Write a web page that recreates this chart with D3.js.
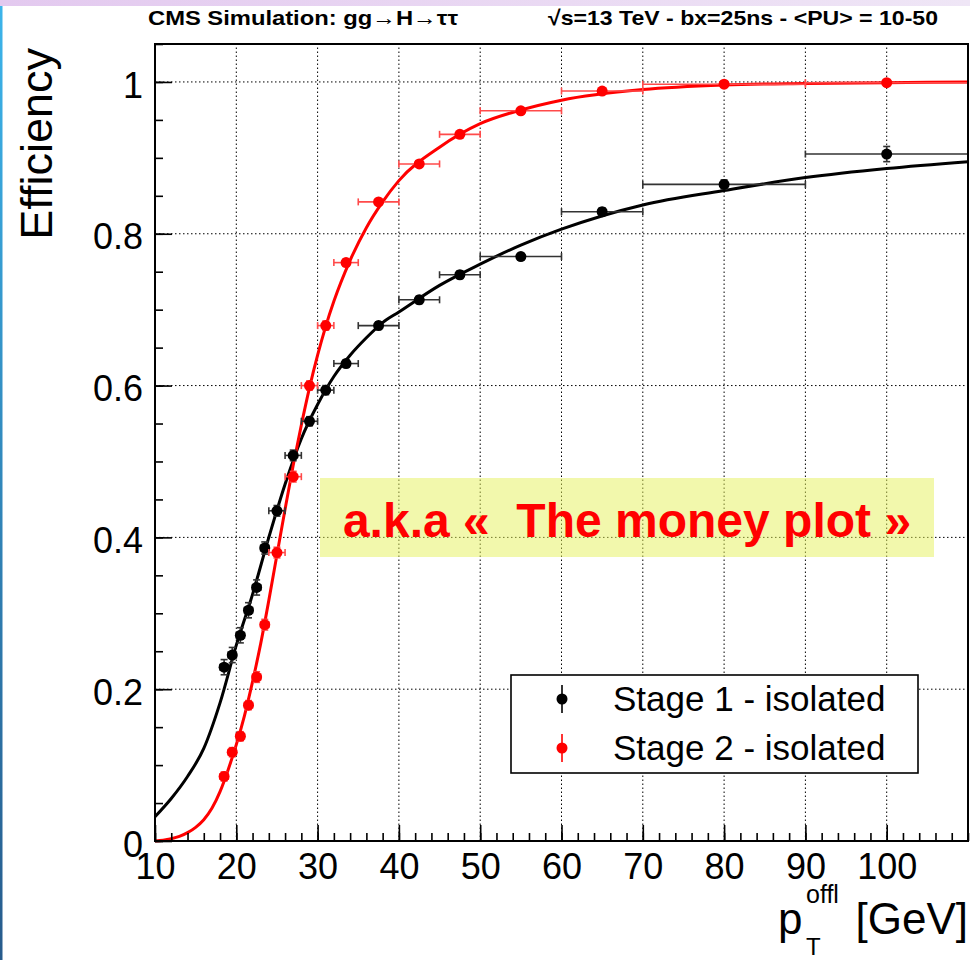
<!DOCTYPE html>
<html>
<head>
<meta charset="utf-8">
<script src="https://cdn.jsdelivr.net/npm/d3@7"></script>
<style>
body { margin: 0; background: #fff; }
svg { display: block; font-family: "Liberation Sans", Arial, Helvetica, sans-serif; }
</style>
</head>
<body>
<svg id="chart" width="970" height="960"></svg>
<script>
// bin centres and edges (GeV)
const ptCenter = [18.5, 19.5, 20.5, 21.5, 22.5, 23.5, 25, 27, 29, 31, 33.5, 37.5, 42.5, 47.5, 55, 65, 80, 100];
const binLo    = [18, 19, 20, 21, 22, 23, 24, 26, 28, 30, 32, 35, 40, 45, 50, 60, 70, 90];
const binHi    = [19, 20, 21, 22, 23, 24, 26, 28, 30, 32, 35, 40, 45, 50, 60, 70, 90, 110];

// efficiencies
const effStage1 = [0.229, 0.245, 0.271, 0.304, 0.334, 0.386, 0.435, 0.508, 0.553, 0.594, 0.629, 0.679, 0.713, 0.746, 0.770, 0.829, 0.865, 0.905];
const errStage1 = [0.010, 0.010, 0.010, 0.010, 0.010, 0.008, 0.007, 0.007, 0.006, 0.006, 0.005, 0.005, 0.005, 0.005, 0.004, 0.005, 0.006, 0.010];
const effStage2 = [0.085, 0.117, 0.138, 0.179, 0.216, 0.285, 0.380, 0.480, 0.600, 0.679, 0.762, 0.842, 0.892, 0.931, 0.962, 0.988, 0.997, 0.999];
const errStage2 = [0.006, 0.006, 0.006, 0.006, 0.007, 0.007, 0.007, 0.007, 0.006, 0.006, 0.005, 0.004, 0.004, 0.003, 0.003, 0.002, 0.002, 0.002];

// fitted turn-on curves
const fitX1     = [10, 12, 14, 16, 18, 20, 22, 24, 26, 28, 30, 32, 34, 36, 38, 40, 45, 50, 55, 60, 70, 80, 90, 100, 110];
const fitStage1 = [0.032, 0.056, 0.085, 0.122, 0.182, 0.258, 0.325, 0.400, 0.470, 0.530, 0.575, 0.612, 0.640, 0.663, 0.683, 0.697, 0.732, 0.760, 0.785, 0.806, 0.838, 0.857, 0.874, 0.886, 0.895];
const fitX2     = [10, 11, 12, 13, 14, 15, 16, 17, 18, 19, 20, 21, 22, 23, 24, 25, 26, 27, 28, 29, 30, 31, 32, 34, 36, 38, 40, 45, 50, 55, 60, 70, 80, 90, 100, 110];
const fitStage2 = [0.000, 0.001, 0.003, 0.006, 0.011, 0.018, 0.028, 0.043, 0.065, 0.094, 0.127, 0.165, 0.210, 0.260, 0.317, 0.377, 0.437, 0.495, 0.548, 0.597, 0.640, 0.678, 0.711, 0.765, 0.808, 0.842, 0.870, 0.914, 0.945, 0.963, 0.976, 0.990, 0.996, 0.998, 0.999, 1.000];

const xTickVals = [10, 20, 30, 40, 50, 60, 70, 80, 90, 100];
const yTickVals = [0, 0.2, 0.4, 0.6, 0.8, 1];
const yTickLabels = ["0", "0.2", "0.4", "0.6", "0.8", "1"];
const legendLabels = ["Stage 1 - isolated", "Stage 2 - isolated"];
const seriesColors = ["#000000", "#ff0000"];

const svg = d3.select("#chart");

const plotL = 155, plotR = 968, plotT = 44, plotB = 841;
const x = d3.scaleLinear().domain([10, 110]).range([plotL, plotR]);
const y = d3.scaleLinear().domain([0, 1.05]).range([plotB, plotT]);

// slide decoration: lavender band on top, blue strip on the left
const defs = svg.append("defs");
const band = defs.append("linearGradient").attr("id", "band");
band.append("stop").attr("offset", "0%").attr("stop-color", "#e3c9ef");
band.append("stop").attr("offset", "100%").attr("stop-color", "#efe6f6");
const strip = defs.append("linearGradient").attr("id", "strip")
	.attr("x1", 0).attr("y1", 0).attr("x2", 0).attr("y2", 1);
strip.append("stop").attr("offset", "0%").attr("stop-color", "#3cb4ea");
strip.append("stop").attr("offset", "100%").attr("stop-color", "#275b8c");

svg.append("rect").attr("x", 0).attr("y", 0).attr("width", 970).attr("height", 6).attr("fill", "url(#band)");
svg.append("rect").attr("x", 0).attr("y", 6).attr("width", 2.5).attr("height", 954).attr("fill", "url(#strip)");

// titles
svg.append("text")
	.attr("x", 148).attr("y", 25)
	.attr("font-size", 21).attr("font-weight", "bold")
	.attr("textLength", 310).attr("lengthAdjust", "spacingAndGlyphs")
	.text("CMS Simulation: gg\u2192H\u2192\u03c4\u03c4");
svg.append("text")
	.attr("x", 548).attr("y", 25)
	.attr("font-size", 21).attr("font-weight", "bold")
	.attr("textLength", 390).attr("lengthAdjust", "spacingAndGlyphs")
	.text("\u221as=13 TeV - bx=25ns - <PU> = 10-50");

// dotted grid
const grid = svg.append("g")
	.attr("stroke", "#000")
	.attr("stroke-width", 1)
	.attr("stroke-dasharray", "1.5,2.5");
grid.selectAll(".gx").data(xTickVals.filter(d => d > 10)).join("line")
	.attr("x1", d => x(d)).attr("x2", d => x(d))
	.attr("y1", plotB).attr("y2", plotT);
grid.selectAll(".gy").data(yTickVals.filter(d => d > 0)).join("line")
	.attr("y1", d => y(d)).attr("y2", d => y(d))
	.attr("x1", plotL).attr("x2", plotR);

// "money plot" banner
svg.append("rect")
	.attr("x", 320).attr("y", 478).attr("width", 614).attr("height", 79)
	.attr("fill", "#e6f25a").attr("fill-opacity", 0.5);
svg.append("text")
	.attr("x", 627).attr("y", 537)
	.attr("text-anchor", "middle")
	.attr("font-size", 48).attr("font-weight", "bold")
	.attr("fill", "#ff0000")
	.style("white-space", "pre")
	.text("a.k.a \u00ab  The money plot \u00bb");

// fit curves
const fitLine = d3.line().curve(d3.curveMonotoneX).x(d => x(d[0])).y(d => y(d[1]));
svg.append("path")
	.datum(fitX1.map((v, i) => [v, fitStage1[i]]))
	.attr("fill", "none").attr("stroke", seriesColors[0]).attr("stroke-width", 3)
	.attr("d", fitLine);
svg.append("path")
	.datum(fitX2.map((v, i) => [v, fitStage2[i]]))
	.attr("fill", "none").attr("stroke", seriesColors[1]).attr("stroke-width", 3)
	.attr("d", fitLine);

// points with error bars
function drawSeries(eff, err, color, barColor) {
	const pts = ptCenter.map((c, i) => ({c: c, lo: binLo[i], hi: binHi[i], v: eff[i], e: err[i]}));
	const g = svg.append("g").attr("stroke", barColor).attr("stroke-width", 1.6);
	const cap = 3.5;
	g.selectAll(".hb").data(pts).join("line")
		.attr("x1", d => x(d.lo)).attr("x2", d => x(d.hi))
		.attr("y1", d => y(d.v)).attr("y2", d => y(d.v));
	g.selectAll(".hcl").data(pts).join("line")
		.attr("x1", d => x(d.lo)).attr("x2", d => x(d.lo))
		.attr("y1", d => y(d.v) - cap).attr("y2", d => y(d.v) + cap);
	g.selectAll(".hcr").data(pts).join("line")
		.attr("x1", d => x(d.hi)).attr("x2", d => x(d.hi))
		.attr("y1", d => y(d.v) - cap).attr("y2", d => y(d.v) + cap);
	g.selectAll(".vb").data(pts).join("line")
		.attr("x1", d => x(d.c)).attr("x2", d => x(d.c))
		.attr("y1", d => y(d.v - d.e)).attr("y2", d => y(d.v + d.e));
	g.selectAll(".vct").data(pts).join("line")
		.attr("x1", d => x(d.c) - cap).attr("x2", d => x(d.c) + cap)
		.attr("y1", d => y(d.v + d.e)).attr("y2", d => y(d.v + d.e));
	g.selectAll(".vcb").data(pts).join("line")
		.attr("x1", d => x(d.c) - cap).attr("x2", d => x(d.c) + cap)
		.attr("y1", d => y(d.v - d.e)).attr("y2", d => y(d.v - d.e));
	svg.append("g").selectAll("circle").data(pts).join("circle")
		.attr("cx", d => x(d.c)).attr("cy", d => y(d.v))
		.attr("r", 5.5).attr("fill", color);
}
drawSeries(effStage1, errStage1, seriesColors[0], "#333333");
drawSeries(effStage2, errStage2, seriesColors[1], "#ff4a4a");

// axes: minor and major ticks point into the frame
function styleAxis(g) {
	g.attr("font-size", null).attr("font-family", null);
	g.select(".domain").remove();
	g.selectAll(".tick line").attr("stroke", "#000").attr("stroke-width", 1.6);
	g.selectAll(".tick text").attr("fill", "#000").attr("font-size", 36);
}
svg.append("g").attr("transform", `translate(0,${plotB})`)
	.call(d3.axisBottom(x).tickValues(d3.range(10, 111, 2)).tickSize(-8).tickFormat(""))
	.call(styleAxis);
svg.append("g").attr("transform", `translate(0,${plotB})`)
	.call(d3.axisBottom(x).tickValues(xTickVals).tickSize(-16).tickPadding(12.5).tickFormat(d3.format("d")))
	.call(styleAxis);
svg.append("g").attr("transform", `translate(${plotL},0)`)
	.call(d3.axisLeft(y).tickValues(d3.range(0, 1.06, 0.05)).tickSize(-8).tickFormat(""))
	.call(styleAxis);
svg.append("g").attr("transform", `translate(${plotL},0)`)
	.call(d3.axisLeft(y).tickValues(yTickVals).tickSize(-17).tickPadding(12).tickFormat((d, i) => yTickLabels[i]))
	.call(styleAxis)
	.call(g => g.selectAll(".tick text").attr("dy", "0.42em"));

// frame
svg.append("rect")
	.attr("x", plotL).attr("y", plotT)
	.attr("width", plotR - plotL).attr("height", plotB - plotT)
	.attr("fill", "none").attr("stroke", "#000").attr("stroke-width", 2);

// axis titles
svg.append("text")
	.attr("transform", "translate(52,48) rotate(-90)")
	.attr("text-anchor", "end")
	.attr("font-size", 45)
	.text("Efficiency");
svg.append("text").attr("x", 778).attr("y", 934).attr("font-size", 44).text("p");
svg.append("text").attr("x", 806).attr("y", 903).attr("font-size", 25).text("offl");
svg.append("text").attr("x", 806).attr("y", 955).attr("font-size", 24).text("T");
svg.append("text").attr("x", 968).attr("y", 934).attr("text-anchor", "end").attr("font-size", 44).text("[GeV]");

// legend
const legend = svg.append("g");
legend.append("rect")
	.attr("x", 511).attr("y", 675).attr("width", 407).attr("height", 98)
	.attr("fill", "#fff").attr("stroke", "#000").attr("stroke-width", 1.6);
const rows = legend.selectAll(".row").data(legendLabels).join("g")
	.attr("transform", (d, i) => `translate(562,${699 + i * 49})`);
rows.append("line")
	.attr("x1", 0).attr("x2", 0).attr("y1", -14).attr("y2", 14)
	.attr("stroke", (d, i) => seriesColors[i]).attr("stroke-width", 1.6);
rows.append("circle").attr("r", 5.5).attr("fill", (d, i) => seriesColors[i]);
rows.append("text")
	.attr("x", 51).attr("y", 12)
	.attr("font-size", 35)
	.text(d => d);
</script>
</body>
</html>
